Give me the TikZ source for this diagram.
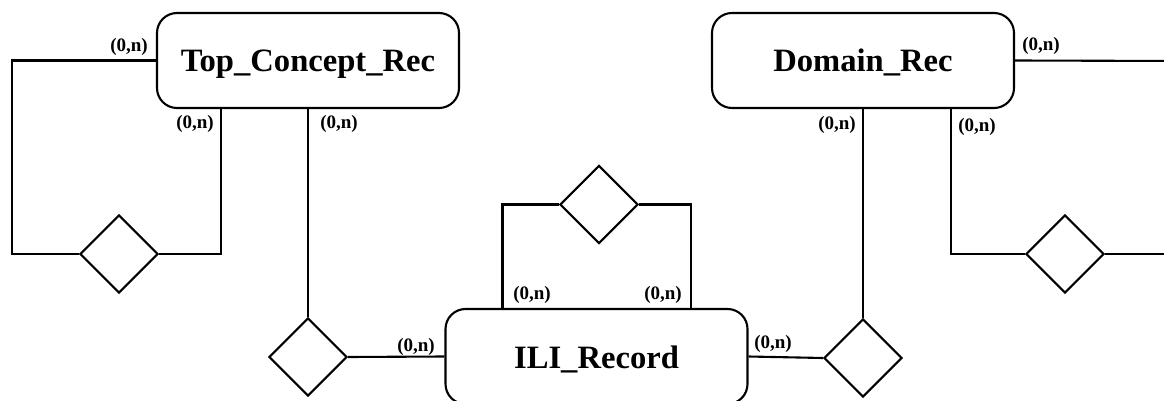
\documentclass[tikz,border=0pt]{standalone}
\usepackage{fontspec}
\setmainfont{Liberation Serif}
\usetikzlibrary{shapes.geometric,calc}
\begin{document}
\begin{tikzpicture}[x=1pt,y=-1pt,
  line width=2.1pt,
  entity/.style={draw,rounded corners=20pt,minimum width=302pt,minimum height=95pt,
    inner sep=0pt,text height=23pt,text depth=0pt,
    font=\fontsize{32.6}{36}\selectfont\bfseries},
  relation/.style={draw,diamond,aspect=1,minimum width=78pt,minimum height=78pt,inner sep=0pt},
  card/.style={inner sep=0pt,font=\fontsize{19}{21}\selectfont\bfseries}]
\useasboundingbox (0,0) rectangle (1164,401);
\fill[white] (0,0) rectangle (1164,401);
\clip (0,0) rectangle (1164,401);

% entities
\node[entity] (tc)  at (308,60.5)  {Top\_Concept\_Rec};
\node[entity] (dr)  at (863,60.5)  {Domain\_Rec};
\node[entity] (ili) at (596.5,356.5) {ILI\_Record};

% relationships
\node[relation] (r1) at (119,254) {};
\node[relation] (r2) at (308,357) {};
\node[relation] (r3) at (599,204.5) {};
\node[relation] (r4) at (863,358) {};
\node[relation] (r5) at (1065,254) {};

% free ends past the right border
\coordinate (e1) at (1180,61);
\coordinate (e2) at (1180,254);

% Top_Concept_Rec self relationship
\draw (tc.west) -| (12,254) -- (r1.west);
\draw (r1.east) -| ($(tc.south west)+(65,0)$);
% Top_Concept_Rec -- ILI_Record
\draw (tc.south) -- (r2.north);
\draw (r2.east) -- (ili.west);
% ILI_Record self relationship
\draw ($(ili.north west)+(58,0)$) |- (r3.west);
\draw (r3.east) -| ($(ili.north east)+(-58,0)$);
% ILI_Record -- Domain_Rec
\draw (ili.east) -- (r4.west);
\draw (r4.north) -- (dr.south);
% Domain_Rec self relationship
\draw ($(dr.south east)+(-64,0)$) |- (r5.west);
\draw (r5.east) -- (e2);
\draw (dr.east) -- (e1);

% cardinalities
\node[card] (c1) at (129,47)  {(0,n)};
\node[card] (c2) at (195,124) {(0,n)};
\node[card] (c3) at (339,124) {(0,n)};
\node[card] (c4) at (416,347) {(0,n)};
\node[card] (c5) at (532,295) {(0,n)};
\node[card] (c6) at (663,295) {(0,n)};
\node[card] (c7) at (773,344) {(0,n)};
\node[card] (c8) at (837,125) {(0,n)};
\node[card] (c9) at (977,127) {(0,n)};
\node[card] (c10) at (1041,46) {(0,n)};
\end{tikzpicture}
\end{document}
